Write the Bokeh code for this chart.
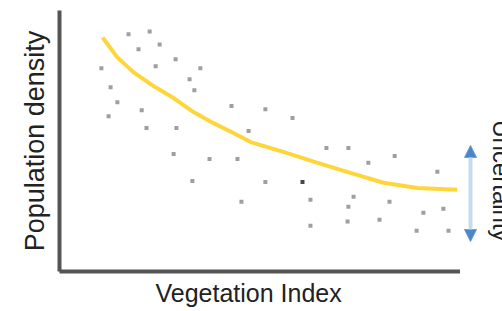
from bokeh.plotting import figure
from bokeh.models import Arrow, NormalHead, Label, FixedTicker, Range1d, ColumnDataSource, Title
from bokeh.layouts import row
from bokeh.embed import file_html
from bokeh.resources import INLINE

# scatter data (vegetation index, population density), arbitrary 0-100 units
veg_x = [16.8, 22.1, 19.3, 24.6, 10.0, 23.6, 28.6, 34.8, 32.1, 33.3, 12.3, 14.0, 20.1,
         11.8, 21.3, 28.8, 28.1, 37.1, 44.1, 32.8, 42.6, 46.9, 45.1, 51.1, 57.9, 66.4,
         71.9, 76.9, 83.5, 94.2, 51.1, 60.4, 62.4, 73.2, 71.9, 82.2, 90.7, 95.7, 62.4,
         71.7, 79.7, 89.0, 97.0]
dens_y = [90.8, 91.9, 85.0, 86.9, 77.7, 78.5, 81.2, 77.7, 73.5, 69.2, 70.4, 64.6, 61.5,
          59.2, 54.6, 54.6, 44.6, 42.7, 42.7, 34.2, 63.1, 53.5, 26.2, 61.9, 58.5, 46.9,
          46.9, 41.2, 43.8, 37.7, 33.8, 33.8, 26.9, 28.1, 24.2, 26.2, 21.9, 23.5, 16.9,
          18.5, 19.2, 15.0, 15.0]
point_shade = ["#959595"] * len(veg_x)
point_shade[31] = "#333333"

# fitted trend curve
fit_x = [10.3, 14.0, 18.0, 23.1, 28.1, 33.1, 38.1, 43.1, 47.4, 55.6, 64.2, 72.4, 80.7, 89.2, 99.2]
fit_y = [89.6, 81.9, 76.2, 70.8, 66.2, 60.8, 56.5, 52.7, 49.2, 45.4, 41.2, 37.3, 33.5, 31.5, 30.8]

# spread arrow (range of residual density)
spread_x = 102.5
spread_top = 47.9
spread_bottom = 10.8

x_title = "Vegetation Index"
y_title = "Population density"
right_title = "Uncertainty"

font = "Liberation Sans"
text_col = "#222222"

yr = Range1d(-0.77, 100)

p = figure(width=460, height=311, output_backend="svg", toolbar_location=None,
           x_range=Range1d(-0.5, 100), y_range=yr,
           min_border_left=59, min_border_right=0, min_border_top=10, min_border_bottom=0)
p.outline_line_color = None
p.grid.visible = False

for ax in (p.xaxis, p.yaxis):
    ax.ticker = FixedTicker(ticks=[])
    ax.axis_line_width = 4
    ax.axis_line_color = "#555555"
    ax.major_tick_line_color = None
    ax.minor_tick_line_color = None
    ax.major_tick_out = 0
    ax.major_label_standoff = 0
    ax.major_label_text_font_size = "0px"
    ax.axis_label_text_font = font
    ax.axis_label_text_color = text_col
    ax.axis_label_text_font_style = "normal"
p.yaxis.axis_label = y_title
p.yaxis.axis_label_text_font_size = "27px"
p.yaxis.axis_label_standoff = 10

p.add_layout(Title(text=x_title, align="left", offset=96, text_font=font,
                   text_font_size="25px", text_font_style="normal", text_color=text_col,
                   standoff=10), "below")

src = ColumnDataSource(dict(x=veg_x, y=dens_y, c=point_shade))
p.scatter("x", "y", source=src, marker="square", size=4, color="c", line_color=None, alpha=0.9)
p.line(fit_x, fit_y, line_color="#FFD63A", line_width=4)

q = figure(width=42, height=311, output_backend="svg", toolbar_location=None,
           x_range=Range1d(100, 110.5), y_range=yr,
           min_border_left=0, min_border_right=0, min_border_top=10, min_border_bottom=39)
q.outline_line_color = None
q.grid.visible = False
q.axis.visible = False

q.add_layout(Arrow(x_start=spread_x, y_start=spread_bottom, x_end=spread_x, y_end=spread_top,
                   line_color="#C6DBEF", line_width=4,
                   start=NormalHead(size=12, fill_color="#4A86C8", line_color="#6A9BD3"),
                   end=NormalHead(size=12, fill_color="#4A86C8", line_color="#6A9BD3")))
q.add_layout(Label(x=110.3, y=34.2, text=right_title, angle=-1.5708, text_align="center",
                   text_baseline="alphabetic", text_font=font, text_font_size="24px",
                   text_color=text_col))

layout = row(p, q, spacing=0)
open("out.html", "w").write(file_html(layout, INLINE))
